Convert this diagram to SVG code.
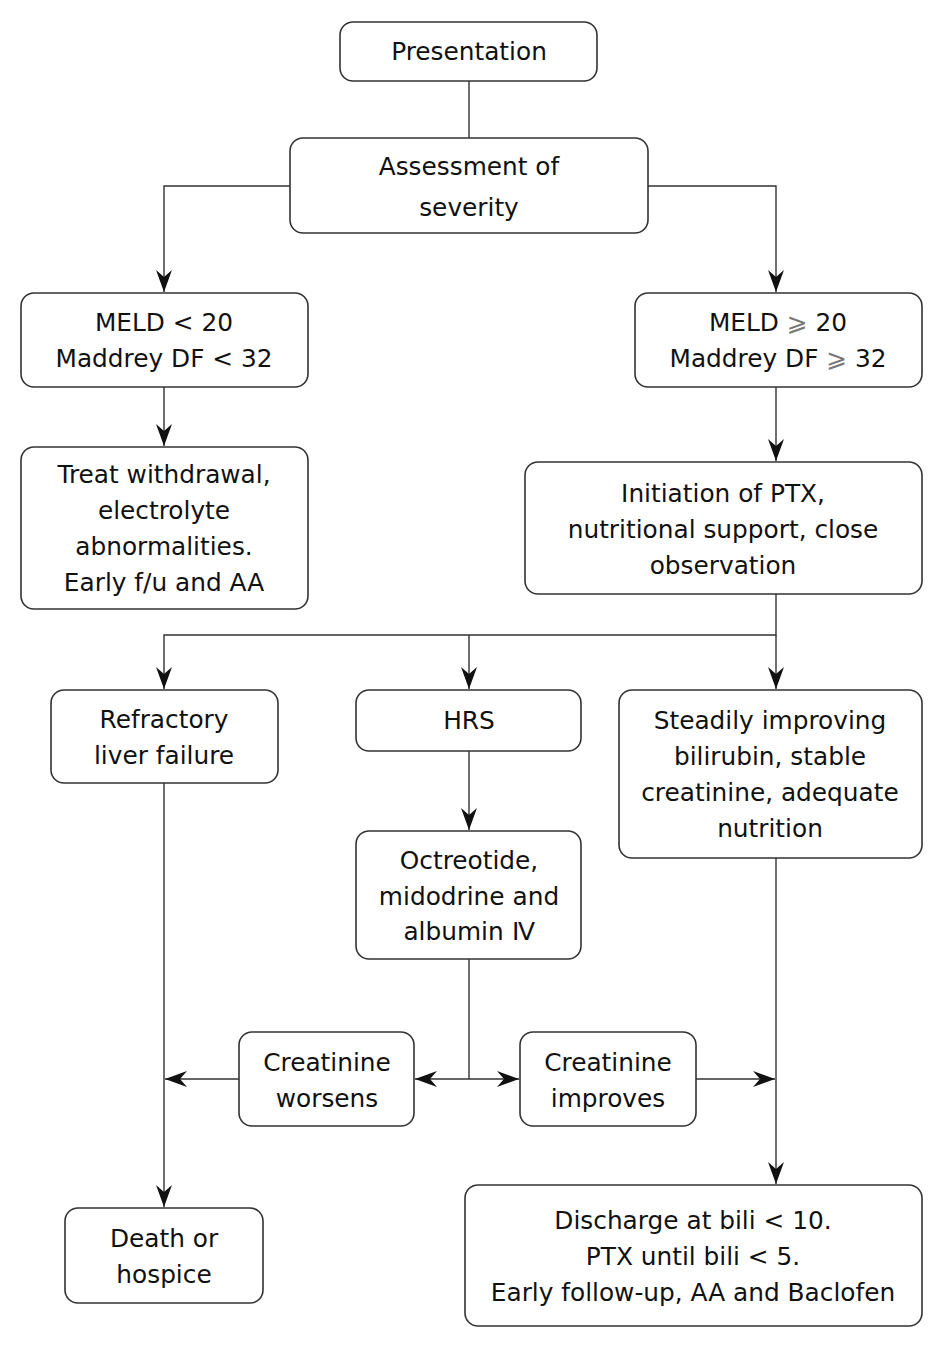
<svg xmlns="http://www.w3.org/2000/svg" width="945" height="1345" viewBox="0 0 945 1345">
<style>
.box{fill:#fff;stroke:#333;stroke-width:1.6}
.t{font-family:"DejaVu Sans","Liberation Sans",sans-serif;font-size:24.8px;fill:#111;text-anchor:middle}
.c{fill:none;stroke:#333;stroke-width:1.4}
</style>
<defs>
<marker id="ah" viewBox="-24 -9 26 18" markerWidth="26" markerHeight="18" refX="0" refY="0" orient="auto" markerUnits="userSpaceOnUse">
<path d="M0,0 L-22,-8 L-15,0 L-22,8 Z" fill="#111"/>
</marker>
</defs>
<rect width="945" height="1345" fill="#fff"/>
<g id="connectors">
<path class="c" d="M469,81 V138"/>
<path class="c" d="M290,186 H164 V292" marker-end="url(#ah)"/>
<path class="c" d="M648,186 H776 V292" marker-end="url(#ah)"/>
<path class="c" d="M164,387 V446" marker-end="url(#ah)"/>
<path class="c" d="M776,387 V461" marker-end="url(#ah)"/>
<path class="c" d="M776,594 V635 H164 V689" marker-end="url(#ah)"/>
<path class="c" d="M469,635 V689" marker-end="url(#ah)"/>
<path class="c" d="M776,635 V689" marker-end="url(#ah)"/>
<path class="c" d="M469,751 V830" marker-end="url(#ah)"/>
<path class="c" d="M164,783 V1207" marker-end="url(#ah)"/>
<path class="c" d="M776,858 V1184" marker-end="url(#ah)"/>
<path class="c" d="M469,959 V1079"/>
<path class="c" d="M469,1079 H415" marker-end="url(#ah)"/>
<path class="c" d="M469,1079 H519" marker-end="url(#ah)"/>
<path class="c" d="M239,1079 H165" marker-end="url(#ah)"/>
<path class="c" d="M696,1079 H775" marker-end="url(#ah)"/>
</g>
<g id="presentation"><rect class="box" x="340" y="22" width="257" height="59" rx="13"/><text class="t" x="469" y="60">Presentation</text></g>
<g id="assessment"><rect class="box" x="290" y="138" width="358" height="95" rx="13"/><text class="t" x="469" y="175">Assessment of</text><text class="t" x="469" y="216">severity</text></g>
<g id="meld-low"><rect class="box" x="21" y="293" width="287" height="94" rx="13"/><text class="t" x="164" y="331">MELD &lt; 20</text><text class="t" x="164" y="367">Maddrey DF &lt; 32</text></g>
<g id="meld-high"><rect class="box" x="635" y="293" width="287" height="94" rx="13"/><text class="t" x="778" y="331">MELD <tspan fill="#777">⩾</tspan> 20</text><text class="t" x="778" y="367">Maddrey DF <tspan fill="#777">⩾</tspan> 32</text></g>
<g id="treat"><rect class="box" x="21" y="447" width="287" height="162" rx="13"/><text class="t" x="164" y="483">Treat withdrawal,</text><text class="t" x="164" y="519">electrolyte</text><text class="t" x="164" y="555">abnormalities.</text><text class="t" x="164" y="591">Early f/u and AA</text></g>
<g id="initiation"><rect class="box" x="525" y="462" width="397" height="132" rx="13"/><text class="t" x="723" y="502">Initiation of PTX,</text><text class="t" x="723" y="538">nutritional support, close</text><text class="t" x="723" y="574">observation</text></g>
<g id="refractory"><rect class="box" x="51" y="690" width="227" height="93" rx="13"/><text class="t" x="164" y="728">Refractory</text><text class="t" x="164" y="764">liver failure</text></g>
<g id="hrs"><rect class="box" x="356" y="690" width="225" height="61" rx="13"/><text class="t" x="469" y="729">HRS</text></g>
<g id="steadily"><rect class="box" x="619" y="690" width="303" height="168" rx="13"/><text class="t" x="770" y="729">Steadily improving</text><text class="t" x="770" y="765">bilirubin, stable</text><text class="t" x="770" y="801">creatinine, adequate</text><text class="t" x="770" y="837">nutrition</text></g>
<g id="octreotide"><rect class="box" x="356" y="831" width="225" height="128" rx="13"/><text class="t" x="469" y="869">Octreotide,</text><text class="t" x="469" y="905">midodrine and</text><text class="t" x="469" y="940">albumin <tspan font-family="Liberation Serif,serif">Ⅳ</tspan></text></g>
<g id="worsens"><rect class="box" x="239" y="1032" width="175" height="94" rx="13"/><text class="t" x="327" y="1071">Creatinine</text><text class="t" x="327" y="1107">worsens</text></g>
<g id="improves"><rect class="box" x="520" y="1032" width="176" height="94" rx="13"/><text class="t" x="608" y="1071">Creatinine</text><text class="t" x="608" y="1107">improves</text></g>
<g id="death"><rect class="box" x="65" y="1208" width="198" height="95" rx="13"/><text class="t" x="164" y="1247">Death or</text><text class="t" x="164" y="1283">hospice</text></g>
<g id="discharge"><rect class="box" x="465" y="1185" width="457" height="141" rx="13"/><text class="t" x="693" y="1229">Discharge at bili &lt; 10.</text><text class="t" x="693" y="1265">PTX until bili &lt; 5.</text><text class="t" x="693" y="1301">Early follow-up, AA and Baclofen</text></g>
</svg>
